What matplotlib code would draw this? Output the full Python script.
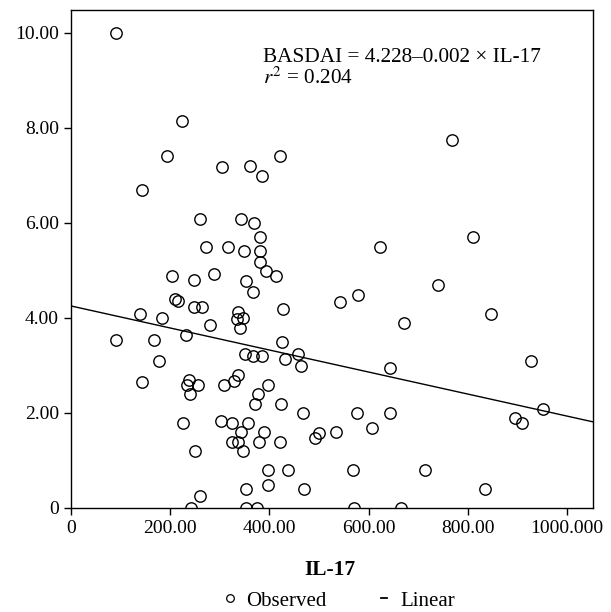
import matplotlib.pyplot as plt
from matplotlib.lines import Line2D

plt.rcParams['font.family'] = ['Liberation Serif', 'DejaVu Serif']
plt.rcParams['mathtext.fontset'] = 'stix'

# observed IL-17 vs BASDAI
il17 = [91, 224, 194, 143, 305, 361, 385, 422, 261, 342, 369, 382, 273, 316,
        348, 382, 382, 393, 414, 204, 249, 288, 354, 367, 210, 215, 248, 264,
        427, 543, 140, 184, 336, 335, 347, 281, 341, 232, 91, 168, 426, 178,
        350, 367, 386, 432, 457, 463, 143, 238, 235, 257, 240, 308, 328, 337,
        397, 378, 372, 423, 467, 227, 302, 325, 357, 343, 390, 325, 337, 380,
        422, 347, 251, 492, 500, 534, 397, 438, 353, 398, 470, 260, 243, 353,
        376, 769, 811, 624, 578, 741, 846, 672, 927, 644, 577, 643, 606, 895,
        910, 951, 568, 713, 835, 570, 665]
basdai = [10.0, 8.13, 7.40, 6.69, 7.18, 7.19, 6.98, 7.40, 6.08, 6.08, 5.99,
          5.69, 5.48, 5.48, 5.40, 5.40, 5.18, 4.99, 4.89, 4.89, 4.79, 4.93,
          4.78, 4.54, 4.39, 4.35, 4.23, 4.23, 4.18, 4.33, 4.09, 3.99, 4.13,
          3.98, 3.99, 3.85, 3.78, 3.64, 3.54, 3.54, 3.49, 3.09, 3.24, 3.19,
          3.19, 3.14, 3.24, 2.99, 2.64, 2.69, 2.59, 2.59, 2.40, 2.59, 2.68,
          2.79, 2.58, 2.39, 2.18, 2.19, 2.00, 1.79, 1.83, 1.79, 1.79, 1.59,
          1.59, 1.38, 1.38, 1.38, 1.39, 1.19, 1.19, 1.48, 1.58, 1.59, 0.79,
          0.79, 0.39, 0.48, 0.39, 0.25, 0.0, 0.0, 0.0, 7.74, 5.69, 5.49, 4.48,
          4.69, 4.08, 3.89, 3.09, 2.94, 1.99, 1.99, 1.68, 1.89, 1.78, 2.09,
          0.80, 0.79, 0.39, 0.0, 0.0]

# fitted line as drawn
fit_x = [0, 1053]
fit_y = [4.25, 1.81]

xticks = [0, 200, 400, 600, 800, 1000]
xlabels = ['0', '200.00', '400.00', '600.00', '800.00', '1000.000']
yticks = [0, 2, 4, 6, 8, 10]
ylabels = ['0', '2.00', '4.00', '6.00', '8.00', '10.00']

fig = plt.figure(figsize=(6.11, 6.12), dpi=100)
ax = fig.add_axes([0.116, 0.170, 0.855, 0.814])

ax.plot(il17, basdai, 'o', mfc='none', mec='black', ms=8.2, mew=1.0)
ax.plot(fit_x, fit_y, color='black', lw=1.0)

ax.set_xlim(0, 1053)
ax.set_ylim(0, 10.48)
ax.set_xticks(xticks)
ax.set_xticklabels(xlabels)
ax.set_yticks(yticks)
ax.set_yticklabels(ylabels)
ax.tick_params(direction='out', length=5, width=1, labelsize=14,
               top=False, right=False)
for s in ax.spines.values():
    s.set_linewidth(1.0)

ax.set_xlabel('IL-17', fontsize=15.5, fontweight='bold', va='center')
ax.xaxis.set_label_coords(0.495, -0.1245)

ax.text(0.368, 0.904, 'BASDAI = 4.228\u20130.002 \u00d7 IL-17',
        transform=ax.transAxes, fontsize=15.3, va='center')
ax.text(0.368, 0.863, '$r^2$ = 0.204', transform=ax.transAxes,
        fontsize=15.3, va='center')

handles = [Line2D([], [], ls='none', marker='o', mfc='none', mec='black',
                  ms=5.5, mew=0.9),
           Line2D([], [], color='black', lw=1.3)]
fig.legend(handles, ['Observed', 'Linear'], loc='center',
           bbox_to_anchor=(0.558, 0.018), ncol=2, frameon=False,
           fontsize=15, handlelength=0.3, columnspacing=2.6,
           handletextpad=0.65)

fig.savefig('out.png', dpi=100)
